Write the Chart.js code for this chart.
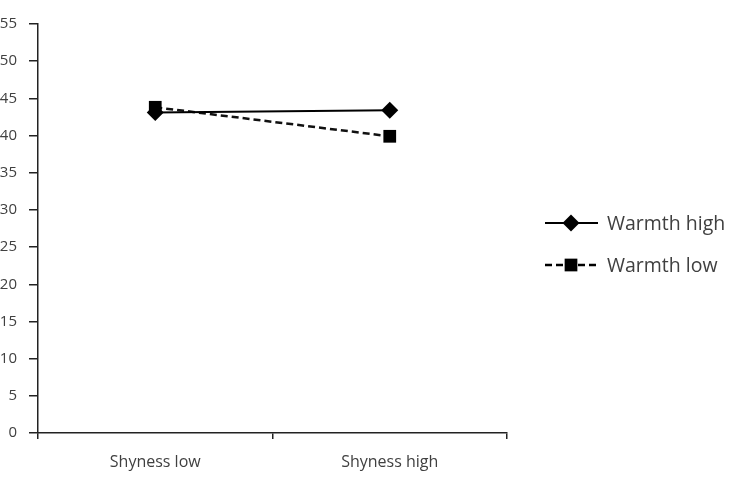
<!DOCTYPE html>
<html>
<head>
<meta charset="utf-8">
<script src="https://cdn.jsdelivr.net/npm/chart.js@4"></script>
<style>
html,body{margin:0;padding:0;background:#fff;}
#wrap{width:729px;height:477px;position:relative;}
</style>
</head>
<body>
<div id="wrap"><canvas id="c" width="729" height="477"></canvas></div>
<script>
const categories = ["Shyness low", "Shyness high"];
const warmthHigh = [43.1, 43.4];
const warmthLow = [43.8, 39.9];
const seriesNames = ["Warmth high", "Warmth low"];
const yTicks = [0,5,10,15,20,25,30,35,40,45,50,55];

const FONT = "'Open Sans', Lato, sans-serif";
const TXT = '#404040';

const legendPlugin = {
  id: 'customLegend',
  afterDraw(chart) {
    const ctx = chart.ctx;
    const items = chart.data.datasets;
    const x0 = 545, x1 = 598, tx = 607, mx = 571;
    const ys = [223, 265];
    items.forEach((ds, i) => {
      const y = ys[i];
      ctx.save();
      ctx.strokeStyle = '#000';
      ctx.lineWidth = ds.borderWidth;
      ctx.setLineDash(ds.borderDash || []);
      ctx.beginPath(); ctx.moveTo(x0, y); ctx.lineTo(x1, y); ctx.stroke();
      ctx.setLineDash([]);
      ctx.fillStyle = '#000';
      ctx.beginPath();
      const r = ds.pointRadius;
      if (ds.pointStyle === 'rectRot') {
        ctx.moveTo(mx, y - r); ctx.lineTo(mx + r, y); ctx.lineTo(mx, y + r); ctx.lineTo(mx - r, y); ctx.closePath();
      } else {
        const h = r * Math.SQRT1_2;
        ctx.rect(mx - h, y - h, 2 * h, 2 * h);
      }
      ctx.fill();
      ctx.fillStyle = TXT;
      ctx.font = "19.5px " + FONT;
      ctx.textBaseline = 'middle';
      ctx.fillText(ds.label, tx, y + 1);
      ctx.restore();
    });
  }
};

new Chart(document.getElementById('c'), {
  type: 'line',
  data: {
    labels: categories,
    datasets: [
      { label: seriesNames[0], data: warmthHigh, borderColor: '#000', backgroundColor: '#000',
        borderWidth: 2, pointStyle: 'rectRot', pointRadius: 8.5, pointBorderWidth: 0, pointBackgroundColor: '#000' },
      { label: seriesNames[1], data: warmthLow, borderColor: '#111', backgroundColor: '#000',
        borderWidth: 2.5, borderDash: [7, 4], pointStyle: 'rect', pointRadius: 9, pointBorderWidth: 0, pointBackgroundColor: '#000' }
    ]
  },
  options: {
    responsive: false,
    animation: false,
    layout: { padding: { top: 24, right: 222, left: 0, bottom: 0 } },
    plugins: { legend: { display: false }, tooltip: { enabled: false } },
    scales: {
      x: {
        offset: true,
        grid: { offset: true, drawOnChartArea: false, drawTicks: true, tickLength: 6, color: '#222', lineWidth: 1.5 },
        border: { display: true, color: '#222', width: 1.5 },
        ticks: { color: TXT, font: { family: FONT, size: 16 }, padding: 14 },
        afterFit(s) { s.height = 44; }
      },
      y: {
        min: 0, max: 55,
        afterBuildTicks(s) { s.ticks = yTicks.map(v => ({ value: v })); },
        grid: { drawOnChartArea: false, drawTicks: true, tickLength: 9, color: '#222', lineWidth: 1.5 },
        border: { display: true, color: '#222', width: 1.5 },
        ticks: { color: TXT, font: { family: FONT, size: 15 }, padding: 12 },
        afterFit(s) { s.width = 38; }
      }
    }
  },
  plugins: [legendPlugin]
});
</script>
</body>
</html>
